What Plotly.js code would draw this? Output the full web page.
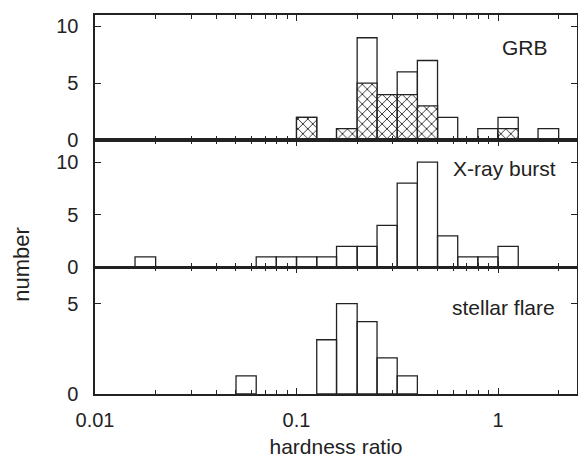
<!DOCTYPE html>
<html>
<head>
<meta charset="utf-8">
<script src="https://cdn.plot.ly/plotly-3.0.1.min.js"></script>
<style>html,body{margin:0;padding:0;background:#fff;}#chart{width:578px;height:458px;}</style>
</head>
<body>
<div id="chart"></div>
<script>
// Histogram bin edges (0.1 dex bins in hardness ratio)
const binEdges = [0.01, 0.0126, 0.0158, 0.02, 0.0251, 0.0316, 0.0398, 0.0501, 0.0631, 0.0794,
                  0.1, 0.126, 0.158, 0.2, 0.251, 0.316, 0.398, 0.501, 0.631, 0.794,
                  1.0, 1.26, 1.58, 2.0, 2.51];
// Counts per bin (24 bins)
const grbAll     = [0,0,0,0,0,0,0,0,0,0, 2,0,1,9,4,6,7,2,0,1, 2,0,1,0];
const grbHatched = [0,0,0,0,0,0,0,0,0,0, 2,0,1,5,4,4,3,0,0,0, 1,0,0,0];
const xrayBurst  = [0,0,1,0,0,0,0,0,1,1, 1,1,2,2,4,8,10,3,1,1, 2,0,0,0];
const stellarFlare = [0,0,0,0,0,0,0,1,0,0, 0,3,5,4,2,1,0,0,0,0, 0,0,0,0];

const panelLabels = ["GRB", "X-ray burst", "stellar flare"];
const xTickVals = [0.01, 0.1, 1];
const xTickText = ["0.01", "0.1", "1"];
const xMinorVals = [0.02,0.03,0.04,0.05,0.06,0.07,0.08,0.09,0.2,0.3,0.4,0.5,0.6,0.7,0.8,0.9,2];

const INK = '#222';
const FONT = '"Liberation Sans", Arial, Helvetica, sans-serif';

function rects(counts) {
  const xs = [], ys = [];
  counts.forEach((c, i) => {
    if (c > 0) {
      const lo = binEdges[i], hi = binEdges[i + 1];
      xs.push(lo, lo, hi, hi, lo, null);
      ys.push(0, c, c, 0, 0, null);
    }
  });
  return {x: xs, y: ys};
}

function openTrace(counts, xa, ya) {
  const r = rects(counts);
  return {x: r.x, y: r.y, xaxis: xa, yaxis: ya, type: 'scatter', mode: 'lines',
          fill: 'toself', fillcolor: 'white', line: {color: INK, width: 1.3},
          hoverinfo: 'skip', showlegend: false, connectgaps: false};
}
function hatchTrace(counts, xa, ya) {
  const r = rects(counts);
  return {x: r.x, y: r.y, xaxis: xa, yaxis: ya, type: 'scatter', mode: 'lines',
          fill: 'toself', fillcolor: 'white',
          fillpattern: {shape: 'x', size: 7, solidity: 0.24, fgcolor: INK, bgcolor: 'white'},
          line: {color: INK, width: 1.3},
          hoverinfo: 'skip', showlegend: false, connectgaps: false};
}

const traces = [
  openTrace(grbAll, 'x', 'y'),
  hatchTrace(grbHatched, 'x', 'y'),
  openTrace(xrayBurst, 'x2', 'y2'),
  openTrace(stellarFlare, 'x3', 'y3')
];

const xRange = [-2, 0.392];
function xAxis(anchor, showLabels) {
  return {
    type: 'log', range: xRange, anchor: anchor,
    showline: true, linecolor: INK, linewidth: 1.6, mirror: 'ticks',
    ticks: 'inside', ticklen: 6, tickwidth: 1, tickcolor: INK,
    tickmode: 'array', tickvals: xTickVals, ticktext: xTickText,
    showticklabels: showLabels, ticklabelstandoff: 7,
    tickfont: {family: FONT, size: 20, color: INK},
    minor: {ticks: 'inside', ticklen: 4, tickwidth: 1, tickcolor: INK, tickmode: 'array', tickvals: xMinorVals, showgrid: false},
    showgrid: false, zeroline: false, fixedrange: true
  };
}
function yAxis(anchor, domain, range, vals) {
  return {
    domain: domain, range: range, anchor: anchor,
    showline: true, linecolor: INK, linewidth: 1.6, mirror: 'ticks',
    ticks: 'inside', ticklen: 6, tickwidth: 1, tickcolor: INK,
    tickmode: 'array', tickvals: vals, ticklabelstandoff: 11,
    tickfont: {family: FONT, size: 20, color: INK},
    showgrid: false, zeroline: false, fixedrange: true
  };
}

const layout = {
  width: 578, height: 458,
  margin: {l: 95, r: 1, t: 15, b: 64},
  paper_bgcolor: 'white', plot_bgcolor: 'white',
  font: {family: FONT, color: INK},
  showlegend: false, hovermode: false,
  xaxis: xAxis('y', false),
  xaxis2: xAxis('y2', false),
  xaxis3: Object.assign(xAxis('y3', true), {
    title: {text: 'hardness ratio', font: {family: FONT, size: 21, color: INK}, standoff: 10}
  }),
  yaxis: yAxis('x', [0.670, 1], [0, 11], [0, 5, 10]),
  yaxis2: yAxis('x2', [0.334, 0.670], [0, 12.1], [0, 5, 10]),
  yaxis3: yAxis('x3', [0, 0.334], [0, 7], [0, 5]),
  annotations: [
    {text: panelLabels[0], xref: 'paper', yref: 'paper', x: 0.944, y: 0.914, xanchor: 'right', yanchor: 'middle', showarrow: false, font: {family: FONT, size: 21, color: INK}},
    {text: panelLabels[1], xref: 'paper', yref: 'paper', x: 0.961, y: 0.596, xanchor: 'right', yanchor: 'middle', showarrow: false, font: {family: FONT, size: 21, color: INK}},
    {text: panelLabels[2], xref: 'paper', yref: 'paper', x: 0.958, y: 0.227, xanchor: 'right', yanchor: 'middle', showarrow: false, font: {family: FONT, size: 21, color: INK}},
    {text: 'number', xref: 'paper', yref: 'paper', x: -0.154, y: 0.343, xanchor: 'center', yanchor: 'middle', textangle: -90, showarrow: false, font: {family: FONT, size: 22, color: INK}}
  ]
};

Plotly.newPlot('chart', traces, layout, {displayModeBar: false, staticPlot: true});
</script>
</body>
</html>
